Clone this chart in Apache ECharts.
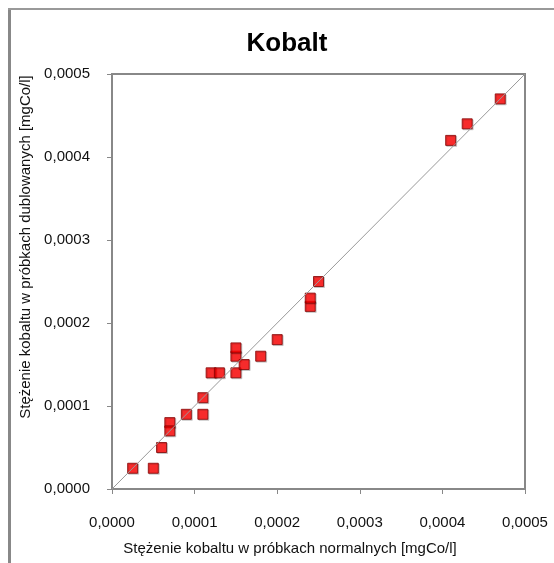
<!DOCTYPE html>
<html>
<head>
<meta charset="utf-8">
<script src="https://cdn.jsdelivr.net/npm/echarts@6/dist/echarts.min.js"></script>
<style>
  html, body { margin: 0; padding: 0; background: #fff; }
  #chart { width: 554px; height: 563px; }
</style>
</head>
<body>
<div id="chart"></div>
<script>
// próbki normalne (x) i dublowane (y), mgCo/l
var normalne = [0.000025, 0.00005, 0.00006, 0.00007, 0.00007, 0.00009, 0.00011, 0.00011,
  0.00012, 0.00013, 0.00015, 0.00015, 0.00015, 0.00016, 0.00018, 0.0002,
  0.00024, 0.00024, 0.00025, 0.00041, 0.00043, 0.00047]
var dublowane = [0.000025, 0.000025, 0.00005, 0.00008, 0.00007, 0.00009, 0.00009, 0.00011,
  0.00014, 0.00014, 0.00014, 0.00016, 0.00017, 0.00015, 0.00016, 0.00018,
  0.00022, 0.00023, 0.00025, 0.00042, 0.00044, 0.00047]

// linia y = x
var liniaX = [0, 0.0005]
var liniaY = [0, 0.0005]

var axisMin = 0
var axisMax = 0.0005
var axisStep = 0.0001

var font = 'Liberation Sans, Arial, sans-serif'

function fmt (v) {
  return v.toFixed(4).replace('.', ',')
}

var punkty = normalne.map(function (x, i) { return [x, dublowane[i]] })
var linia = liniaX.map(function (x, i) { return [x, liniaY[i]] })

var chart = echarts.init(document.getElementById('chart'))

chart.setOption({
  animation: false,
  grid: {
    left: 112,
    top: 74,
    width: 413,
    height: 415,
    show: true,
    borderColor: '#888',
    borderWidth: 2,
    backgroundColor: '#fff'
  },
  xAxis: {
    type: 'value',
    min: axisMin,
    max: axisMax,
    interval: axisStep,
    axisLine: { show: true, lineStyle: { color: '#888', width: 2 } },
    axisTick: { show: true, length: 5, lineStyle: { color: '#888', width: 1 } },
    splitLine: { show: false },
    axisLabel: {
      margin: 26,
      fontFamily: font,
      fontSize: 15,
      color: '#111',
      formatter: fmt
    }
  },
  yAxis: {
    type: 'value',
    min: axisMin,
    max: axisMax,
    interval: axisStep,
    axisLine: { show: true, lineStyle: { color: '#888', width: 2 } },
    axisTick: { show: true, length: 5, lineStyle: { color: '#888', width: 1 } },
    splitLine: { show: false },
    axisLabel: {
      margin: 22,
      fontFamily: font,
      fontSize: 15,
      color: '#111',
      formatter: fmt
    }
  },
  series: [
    {
      type: 'line',
      data: linia,
      symbol: 'none',
      silent: true,
      lineStyle: { color: '#999', width: 1 }
    },
    {
      type: 'scatter',
      data: punkty,
      symbol: 'rect',
      symbolSize: 10,
      itemStyle: {
        color: '#ff0000',
        borderColor: '#800000',
        borderWidth: 1,
        shadowColor: 'rgba(0, 0, 0, 0.2)',
        shadowOffsetX: 1,
        shadowOffsetY: 1,
        shadowBlur: 0
      }
    }
  ],
  graphic: [
    // ramka wykresu
    { type: 'rect', shape: { x: 8, y: 8, width: 3, height: 560 }, style: { fill: '#888' }, silent: true },
    { type: 'rect', shape: { x: 8, y: 8, width: 546, height: 2 }, style: { fill: '#999' }, silent: true },
    // tytuł
    {
      type: 'text',
      x: 287,
      y: 44,
      style: {
        text: 'Kobalt',
        font: 'bold 26px ' + font,
        fill: '#000',
        align: 'center',
        verticalAlign: 'middle'
      }
    },
    // opisy osi
    {
      type: 'text',
      x: 290,
      y: 549,
      style: {
        text: 'Stężenie kobaltu w próbkach normalnych [mgCo/l]',
        font: '15px ' + font,
        fill: '#111',
        align: 'center',
        verticalAlign: 'middle'
      }
    },
    {
      type: 'text',
      x: 26,
      y: 247,
      rotation: Math.PI / 2,
      style: {
        text: 'Stężenie kobaltu w próbkach dublowanych [mgCo/l]',
        font: '15px ' + font,
        fill: '#111',
        align: 'center',
        verticalAlign: 'middle'
      }
    }
  ]
})
</script>
</body>
</html>
